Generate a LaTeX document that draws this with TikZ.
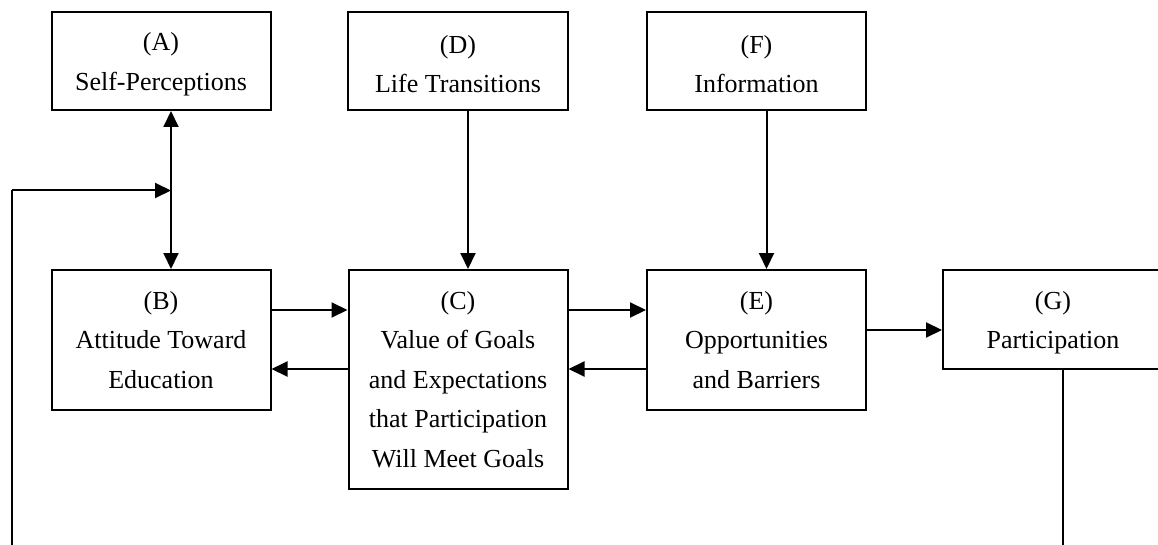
\documentclass[tikz,border=0pt]{standalone}
\usepackage{fontspec}
\setmainfont{Liberation Serif}
\usetikzlibrary{arrows.meta}
\tikzset{
  box/.style={draw, line width=2pt, inner sep=0pt},
  txt/.style={align=center, inner sep=0pt, font=\fontsize{26}{39.5}\selectfont},
  conn/.style={line width=2pt, -{Triangle[length=16pt,width=15pt]}},
  bconn/.style={line width=2pt, {Triangle[length=16pt,width=15pt]}-{Triangle[length=16pt,width=15pt]}},
  plain/.style={line width=2pt}
}
\begin{document}
\begin{tikzpicture}[x=1pt,y=-1pt]
\clip (0,0) rectangle (1158,545);
\node[box, minimum width=219pt, minimum height=98pt] (A) at (161,61) {};
\node[txt] (At) at ([yshift=-3.5pt]A.center) {(A)\\Self-Perceptions};
\node[box, minimum width=220pt, minimum height=98pt] (D) at (458,61) {};
\node[txt] (Dt) at ([yshift=-3pt]D.center) {(D)\\Life Transitions};
\node[box, minimum width=219pt, minimum height=98pt] (F) at (756.5,61) {};
\node[txt] (Ft) at ([yshift=-3pt]F.center) {(F)\\Information};
\node[box, minimum width=219pt, minimum height=140pt] (B) at (161,340) {};
\node[txt] (Bt) at (B.center) {(B)\\Attitude Toward\\Education};
\node[box, minimum width=219pt, minimum height=219pt] (C) at (458,379.5) {};
\node[txt] (Ct) at (C.center) {(C)\\Value of Goals\\and Expectations\\that Participation\\Will Meet Goals};
\node[box, minimum width=219pt, minimum height=140pt] (E) at (756.5,340) {};
\node[txt] (Et) at (E.center) {(E)\\Opportunities\\and Barriers};
\node[box, minimum width=220pt, minimum height=99pt] (G) at (1053,319.5) {};
\node[txt] (Gt) at ([yshift=-3pt]G.center) {(G)\\Participation};

% vertical connectors
\draw[bconn] ([xshift=10pt]A.south) -- ([xshift=10pt]B.north);
\draw[conn] ([xshift=10pt]D.south) -- ([xshift=10pt]C.north);
\draw[conn] ([xshift=10pt]F.south) -- ([xshift=10pt]E.north);

% horizontal connectors
\draw[conn] (B.east |- 0,310) -- (C.west |- 0,310);
\draw[conn] (C.west |- 0,369) -- (B.east |- 0,369);
\draw[conn] (C.east |- 0,310) -- (E.west |- 0,310);
\draw[conn] (E.west |- 0,369) -- (C.east |- 0,369);
\draw[conn] (E.east |- 0,330) -- (G.west |- 0,330);

% feedback loop
\coordinate (fbTop) at (171,190.5);
\coordinate (gOut) at ([xshift=10pt]G.south);
\coordinate (bR) at (1063,560);
\coordinate (bL) at (12,560);
\coordinate (tL) at (12,190.5);
\draw[plain] (gOut) -- (bR) -- (bL) -- (tL);
\draw[conn] (tL) -- (fbTop);
\end{tikzpicture}
\end{document}
